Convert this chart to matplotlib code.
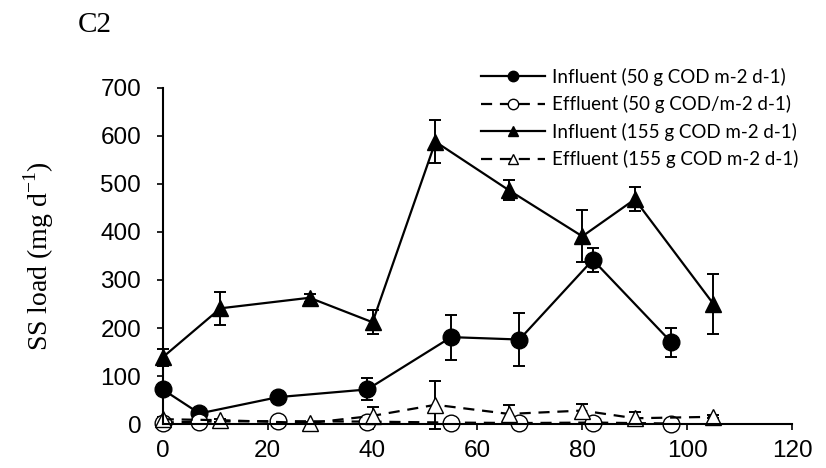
import matplotlib
matplotlib.use("Agg")
import matplotlib.pyplot as plt
from matplotlib.lines import Line2D

# dias de operação
dias_50 = [0, 7, 22, 39, 55, 68, 82, 97]
dias_155 = [0, 11, 28, 40, 52, 66, 80, 90, 105]

# carga de SS (mg/d) e desvios
inf_50 = [72, 22, 56, 72, 181, 176, 342, 170]
inf_50_err = [6, 8, 8, 23, 47, 55, 25, 30]
eff_50 = [3, 5, 6, 5, 3, 2, 3, 1]
eff_50_err = [2, 2, 2, 2, 2, 2, 2, 2]

inf_155 = [139, 241, 263, 212, 588, 487, 391, 468, 250]
inf_155_err = [18, 35, 8, 25, 45, 21, 54, 25, 63]
eff_155 = [10, 8, 2, 17, 40, 21, 28, 12, 15]
eff_155_err = [4, 3, 2, 18, 50, 18, 13, 12, 3]

legendas = ["Influent (50 g COD m-2 d-1)",
            "Effluent (50 g COD/m-2 d-1)",
            "Influent (155 g COD m-2 d-1)",
            "Effluent (155 g COD m-2 d-1)"]

plt.rcParams["font.family"] = ["Liberation Sans", "DejaVu Sans"]

fig = plt.figure(figsize=(8.26, 4.68), dpi=100)
ax = fig.add_axes([0.197, 0.094, 0.762, 0.718])

estilo = dict(color="black", lw=1.6, elinewidth=1.4, capsize=4, capthick=1.4,
              ms=12, clip_on=False)
tracejado = (5, 3.5)
series = [
    (dias_50, inf_50, inf_50_err, "o", "-", "black"),
    (dias_50, eff_50, eff_50_err, "o", "--", "white"),
    (dias_155, inf_155, inf_155_err, "^", "-", "black"),
    (dias_155, eff_155, eff_155_err, "^", "--", "white"),
]
handles = []
for (x, y, e, m, ls, cor), nome in zip(series, legendas):
    extra = {"dashes": tracejado} if ls == "--" else {}
    h = ax.errorbar(x, y, yerr=e, marker=m, ls=ls, mfc=cor, **extra, **estilo)
    for part in h.lines[1] + h.lines[2]:
        part.set_clip_on(False)
    handles.append(Line2D([], [], color="black", lw=1.6, ls=ls, marker=m,
                          mfc=cor, mec="black", ms=7.5, label=nome, **extra))

ax.set_xlim(0, 120)
ax.set_ylim(0, 700)
ax.set_xticks(range(0, 121, 20))
ax.set_yticks(range(0, 701, 100))
ax.spines["top"].set_visible(False)
ax.spines["right"].set_visible(False)
ax.spines["left"].set_linewidth(1.5)
ax.spines["bottom"].set_linewidth(1.5)
ax.tick_params(direction="out", length=4.5, width=1.2, labelsize=17.5)
ax.tick_params(axis="y", pad=11)
ax.tick_params(axis="x", pad=7)

ax.set_ylabel("SS load (mg d$^{\\mathregular{-1}}$)", family="Liberation Serif",
              fontsize=20, labelpad=32)
fig.text(0.094, 0.932, "C2", family="Liberation Serif", fontsize=21)

fig.legend(handles=handles, loc="upper right", frameon=False,
           bbox_to_anchor=(0.978, 0.875), prop={"family": "Lato", "size": 13.5},
           handlelength=3.4, labelspacing=0.5, handletextpad=0.4,
           borderpad=0)

fig.savefig("out.png", dpi=100)
